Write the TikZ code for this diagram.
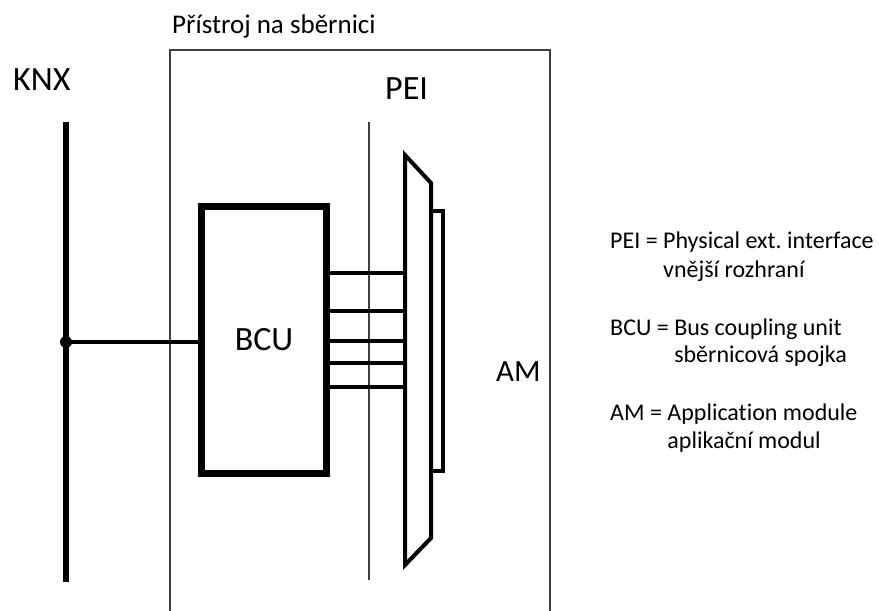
\documentclass[tikz,border=0pt]{standalone}
\usepackage{fontspec}
\setmainfont{Carlito}[Ligatures=CommonOff]
\frenchspacing

\begin{document}
\begin{tikzpicture}[x=1pt, y=-1pt,
    every node/.style={inner sep=0pt, anchor=base west},
    big/.style={font=\fontsize{34}{40}\selectfont},
    legend/.style={font=\fontsize{24}{28}\selectfont},
    frame/.style={draw=black!75, line width=1.8pt},
    wire/.style={line width=4pt}]
    \useasboundingbox (0,0) rectangle (879,611);
    % labels
    \node[font=\fontsize{27}{32}\selectfont] (title) at (172,33) {Přístroj na sběrnici};
    \node[big] (knx) at (13,90) {KNX};
    \node[big] (pei) at (385,99) {PEI};
    \node[font=\fontsize{31}{36}\selectfont] (am) at (496,381) {AM};
    % device box and PEI line
    \draw[frame] (170,611) |- (550,50) -- (550,611);
    \draw[frame] (369,122) -- (369,580);
    % bus
    \coordinate (bus-top) at (66,122);
    \coordinate (bus-bot) at (66,582);
    \coordinate (tap) at (66,342);
    \draw[line width=6pt] (bus-top) -- (bus-bot);
    \fill (tap) circle (6);
    % BCU
    \node[draw, line width=7pt, minimum width=125pt, minimum height=267pt, anchor=center, big] (bcu) at (264,340) {BCU};
    \draw[line width=3.5pt] (tap) -- (tap -| bcu.west);
    % PEI plug and AM
    \draw[line width=4pt] (405,155) coordinate (plug) -- (431,183) -- (431,538) -- (405,565) -- cycle;
    \draw[line width=4pt] (431,211) rectangle (443,471);
    \foreach \y in {273,311,341,363,387}
        \draw[wire] (bcu.east |- 0,\y) -- (plug |- 0,\y);
    % legend
    \node[legend] (pei-def) at (610,248) {PEI = Physical ext. interface};
    \node[legend] (pei-cz) at (610,277) {\hphantom{PEI = }vnější rozhraní};
    \node[legend] (bcu-def) at (610,335) {BCU = Bus coupling unit};
    \node[legend] (bcu-cz) at (610,362) {\hphantom{BCU = }sběrnicová spojka};
    \node[legend] (am-def) at (610,420) {AM = Application module};
    \node[legend] (am-cz) at (610,448) {\hphantom{AM = }aplikační modul};
\end{tikzpicture}
\end{document}
